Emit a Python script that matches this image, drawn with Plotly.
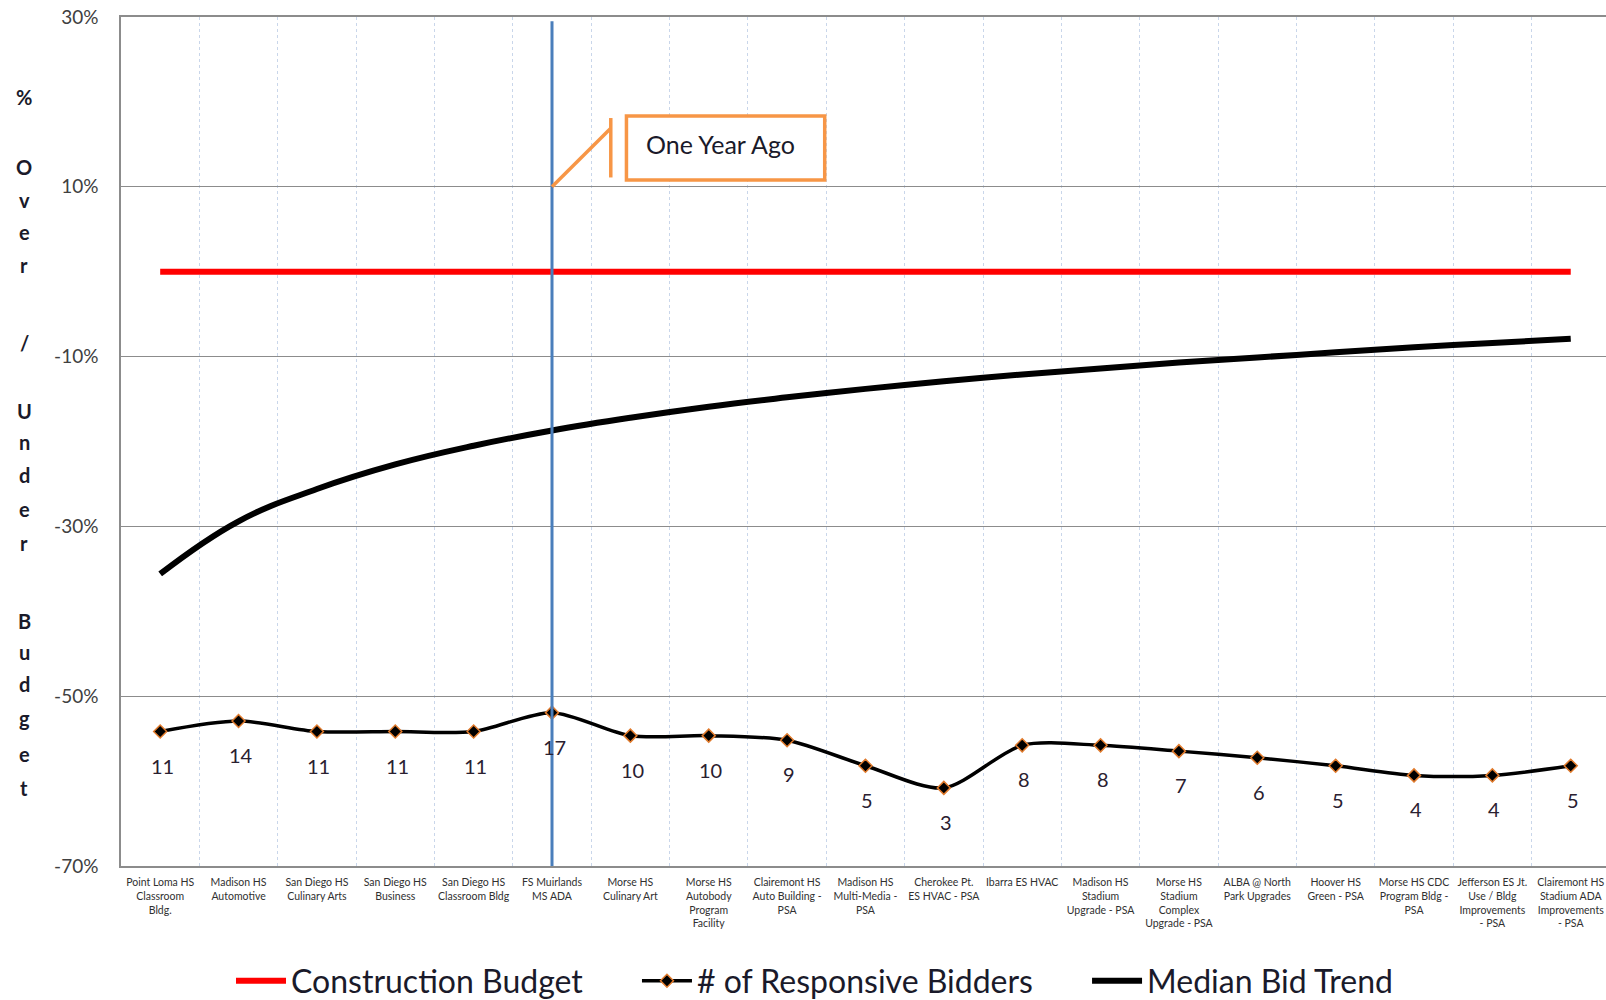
import numpy as np
import plotly.graph_objects as go

# ---- data ----
projects = [
    "Point Loma HS<br>Classroom<br>Bldg.",
    "Madison HS<br>Automotive",
    "San Diego HS<br>Culinary Arts",
    "San Diego HS<br>Business",
    "San Diego HS<br>Classroom Bldg",
    "FS Muirlands<br>MS ADA",
    "Morse HS<br>Culinary Art",
    "Morse HS<br>Autobody<br>Program<br>Facility",
    "Clairemont HS<br>Auto Building -<br>PSA",
    "Madison HS<br>Multi-Media -<br>PSA",
    "Cherokee Pt.<br>ES HVAC - PSA",
    "Ibarra ES HVAC",
    "Madison HS<br>Stadium<br>Upgrade - PSA",
    "Morse HS<br>Stadium<br>Complex<br>Upgrade - PSA",
    "ALBA @ North<br>Park Upgrades",
    "Hoover HS<br>Green - PSA",
    "Morse HS CDC<br>Program Bldg -<br>PSA",
    "Jefferson ES Jt.<br>Use / Bldg<br>Improvements<br>- PSA",
    "Clairemont HS<br>Stadium ADA<br>Improvements<br>- PSA",
]
budget_pct = [0] * len(projects)
median_trend_pct = [-35.6, -29.4, -25.6, -22.7, -20.5, -18.7, -17.2, -15.9, -14.8,
                    -13.8, -12.9, -12.1, -11.4, -10.7, -10.1, -9.5, -8.9, -8.4, -7.9]
bidders = [11, 14, 11, 11, 11, 17, 10, 10, 9, 5, 3, 8, 8, 7, 6, 5, 4, 4, 5]
y_ticks = [-70, -50, -30, -10, 10, 30]
one_year_ago_idx = 5

x = list(range(len(projects)))
FONT = "Lato"
PAD = "\u00a0" * 6  # spacing between legend entries

fig = go.Figure()

fig.add_trace(go.Scatter(
    x=x, y=budget_pct, name="Construction Budget" + PAD, mode="lines",
    line=dict(color="#FF0000", width=6),
))
fig.add_trace(go.Scatter(
    x=x, y=bidders, name="# of Responsive Bidders" + PAD, mode="lines+markers",
    yaxis="y2",
    line=dict(color="#000000", width=3.5, shape="spline", smoothing=0.8),
    marker=dict(symbol="diamond", size=10, color="#000000",
                line=dict(color="#E07A2C", width=1.5)),
))
fig.add_trace(go.Scatter(
    x=x, y=median_trend_pct, name="Median Bid Trend", mode="lines",
    line=dict(color="#000000", width=6, shape="spline", smoothing=1.2),
))

# bidder count labels under each marker
for xi, b in zip(x, bidders):
    fig.add_annotation(
        x=xi, y=np.log10(b), xref="x", yref="y2", text=str(b),
        showarrow=False, yshift=-34, xshift=2,
        font=dict(family=FONT, size=20, color="#2a2030"),
    )

# "one year ago" marker line
fig.add_shape(type="line", xref="x", yref="paper",
              x0=one_year_ago_idx, x1=one_year_ago_idx, y0=0, y1=0.995,
              line=dict(color="#4A7EBB", width=3))

# callout box
orange = "#F79646"
fig.add_shape(type="line", xref="x", yref="y",
              x0=one_year_ago_idx, y0=10, x1=5.75, y1=16.9,
              line=dict(color=orange, width=3.5))
fig.add_shape(type="line", xref="x", yref="y",
              x0=5.75, y0=11.1, x1=5.75, y1=18.1,
              line=dict(color=orange, width=3.5))
fig.add_shape(type="rect", xref="x", yref="y",
              x0=5.95, y0=10.8, x1=8.48, y1=18.35,
              line=dict(color=orange, width=3.5), fillcolor="white")
fig.add_annotation(x=6.17, y=15.1, xref="x", yref="y", text="One Year Ago",
                   showarrow=False, xanchor="left", yanchor="middle",
                   font=dict(family=FONT, size=25, color="#1a1a2a"))

plot_l, plot_r, plot_t, plot_b = 121, 1606, 17, 866
plot_h = plot_b - plot_t
plot_w = plot_r - plot_l

# vertical axis title, one letter per line
title_letters = ["%", "O", "v", "e", "r", "/", "U", "n", "d", "e", "r",
                 "B", "u", "d", "g", "e", "t"]
title_px = [97, 167, 200, 232, 265, 343, 411, 442, 475, 509, 543,
            621, 652, 684, 718, 754, 788]
for ch, py in zip(title_letters, title_px):
    fig.add_annotation(x=(24 - plot_l) / plot_w, y=(plot_b - py) / plot_h,
                       xref="paper", yref="paper",
                       text=f"<b>{ch}</b>", showarrow=False,
                       xanchor="center", yanchor="middle",
                       font=dict(family=FONT, size=20, color="#1a1a2a"))

fig.update_layout(
    width=1606, height=1000,
    margin=dict(l=plot_l, r=1606 - plot_r, t=plot_t, b=1000 - plot_b,
                autoexpand=False),
    paper_bgcolor="white", plot_bgcolor="white",
    font=dict(family=FONT, color="#404040"),
    showlegend=True,
    legend=dict(orientation="h", x=(231 - plot_l) / plot_w, xanchor="left",
                y=(plot_b - 981) / plot_h, yanchor="middle",
                font=dict(family=FONT, size=32, color="#1a1a2a"),
                itemwidth=50, bgcolor="rgba(0,0,0,0)"),
    xaxis=dict(
        range=[-0.5, 18.45], tickmode="array", tickvals=x, ticktext=projects,
        tickangle=0, tickfont=dict(family=FONT, size=10.5, color="#303030"),
        automargin=False, ticklabelstandoff=6,
        showgrid=False, zeroline=False, ticks="",
        showline=True, mirror=True, linecolor="#8C8C8C", linewidth=1.5,
        minor=dict(tickvals=[i + 0.5 for i in range(len(projects) - 1)],
                   showgrid=True, gridcolor="#C9D6EA", griddash="dot",
                   gridwidth=1, ticks=""),
    ),
    yaxis=dict(
        range=[-70, 30], tickmode="array", tickvals=y_ticks,
        ticktext=[f"{v}%" for v in y_ticks],
        tickfont=dict(family=FONT, size=19, color="#404040"),
        automargin=False,
        showgrid=True, gridcolor="#8C8C8C", gridwidth=1.2, zeroline=False,
        showline=True, linecolor="#8C8C8C", linewidth=1.5, ticks="",
        ticklabelstandoff=17,
    ),
    yaxis2=dict(type="log", range=[-0.305, 8.195], overlaying="y",
                visible=False, showgrid=False),
)

fig.write_html("out.html")
